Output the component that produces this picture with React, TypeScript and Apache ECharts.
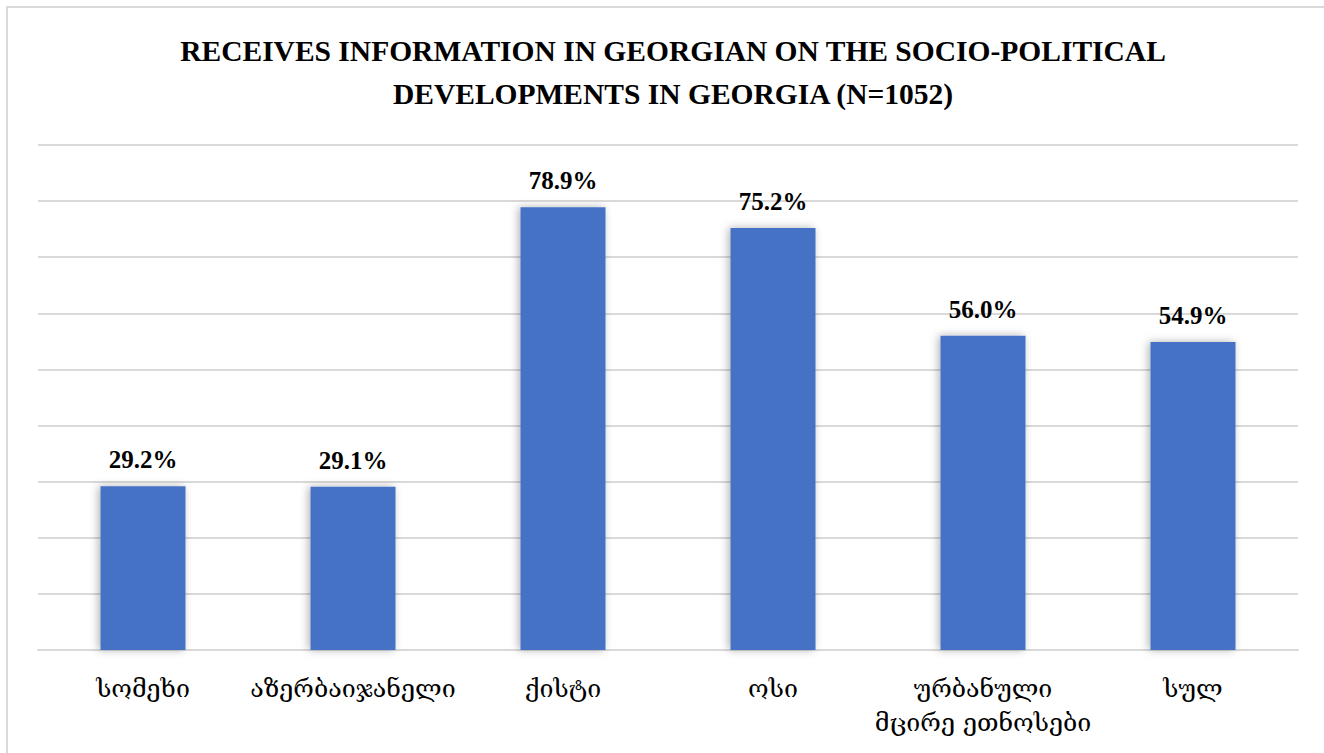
import React, { useEffect, useRef } from "react";
import * as echarts from "echarts";

const TITLE_LINES = [
  "RECEIVES INFORMATION IN GEORGIAN ON THE SOCIO-POLITICAL",
  "DEVELOPMENTS IN GEORGIA (N=1052)",
];
const CATEGORIES = [
  "სომეხი",
  "აზერბაიჯანელი",
  "ქისტი",
  "ოსი",
  "ურბანული\nმცირე ეთნოსები",
  "სულ",
];
const VALUES = [29.2, 29.1, 78.9, 75.2, 56.0, 54.9];
const Y_MIN = 0;
const Y_MAX = 90;
const Y_STEP = 10;

export default function App() {
  const ref = useRef<HTMLDivElement>(null);
  useEffect(() => {
    document.body.style.margin = "0";
    const chart = echarts.init(ref.current!, null, { renderer: "svg" });
    chart.setOption({
      animation: false,
      backgroundColor: "#ffffff",
      title: {
        text: TITLE_LINES.join("\n"),
        left: 668,
        textAlign: "center",
        top: 24,
        textStyle: {
          fontFamily: "Liberation Serif",
          fontWeight: "bold",
          fontSize: 29.5,
          lineHeight: 43,
          color: "#000000",
        },
      },
      graphic: [
        {
          type: "rect",
          shape: { x: 7, y: 7, width: 1340, height: 780 },
          style: { fill: "none", stroke: "#d9d9d9", lineWidth: 2 },
          silent: true,
          z: -1,
        },
      ],
      grid: { left: 38, right: 26, top: 145, bottom: 103, containLabel: false },
      xAxis: {
        type: "category",
        data: CATEGORIES,
        axisLine: { show: true, lineStyle: { color: "#d9d9d9", width: 2 } },
        axisTick: { show: false },
        axisLabel: {
          interval: 0,
          margin: 21,
          fontFamily: "DejaVu Serif, DejaVu Sans",
          fontSize: 25,
          lineHeight: 34,
          color: "#000000",
        },
      },
      yAxis: {
        type: "value",
        min: Y_MIN,
        max: Y_MAX,
        interval: Y_STEP,
        axisLabel: { show: false },
        axisLine: { show: false },
        axisTick: { show: false },
        splitLine: { show: true, lineStyle: { color: "#d9d9d9", width: 2 } },
      },
      series: [
        {
          type: "bar",
          data: VALUES,
          barWidth: 85,
          itemStyle: {
            color: "#4472C4",
            shadowColor: "rgba(0,0,0,0.3)",
            shadowBlur: 8,
            shadowOffsetX: -2,
            shadowOffsetY: 0,
          },
          label: {
            show: true,
            position: "top",
            distance: 14,
            formatter: (p: any) => p.value.toFixed(1) + "%",
            fontFamily: "Liberation Serif",
            fontWeight: "bold",
            fontSize: 25,
            color: "#000000",
          },
        },
      ],
    });
    return () => chart.dispose();
  }, []);
  return <div ref={ref} style={{ width: 1324, height: 753 }} />;
}
